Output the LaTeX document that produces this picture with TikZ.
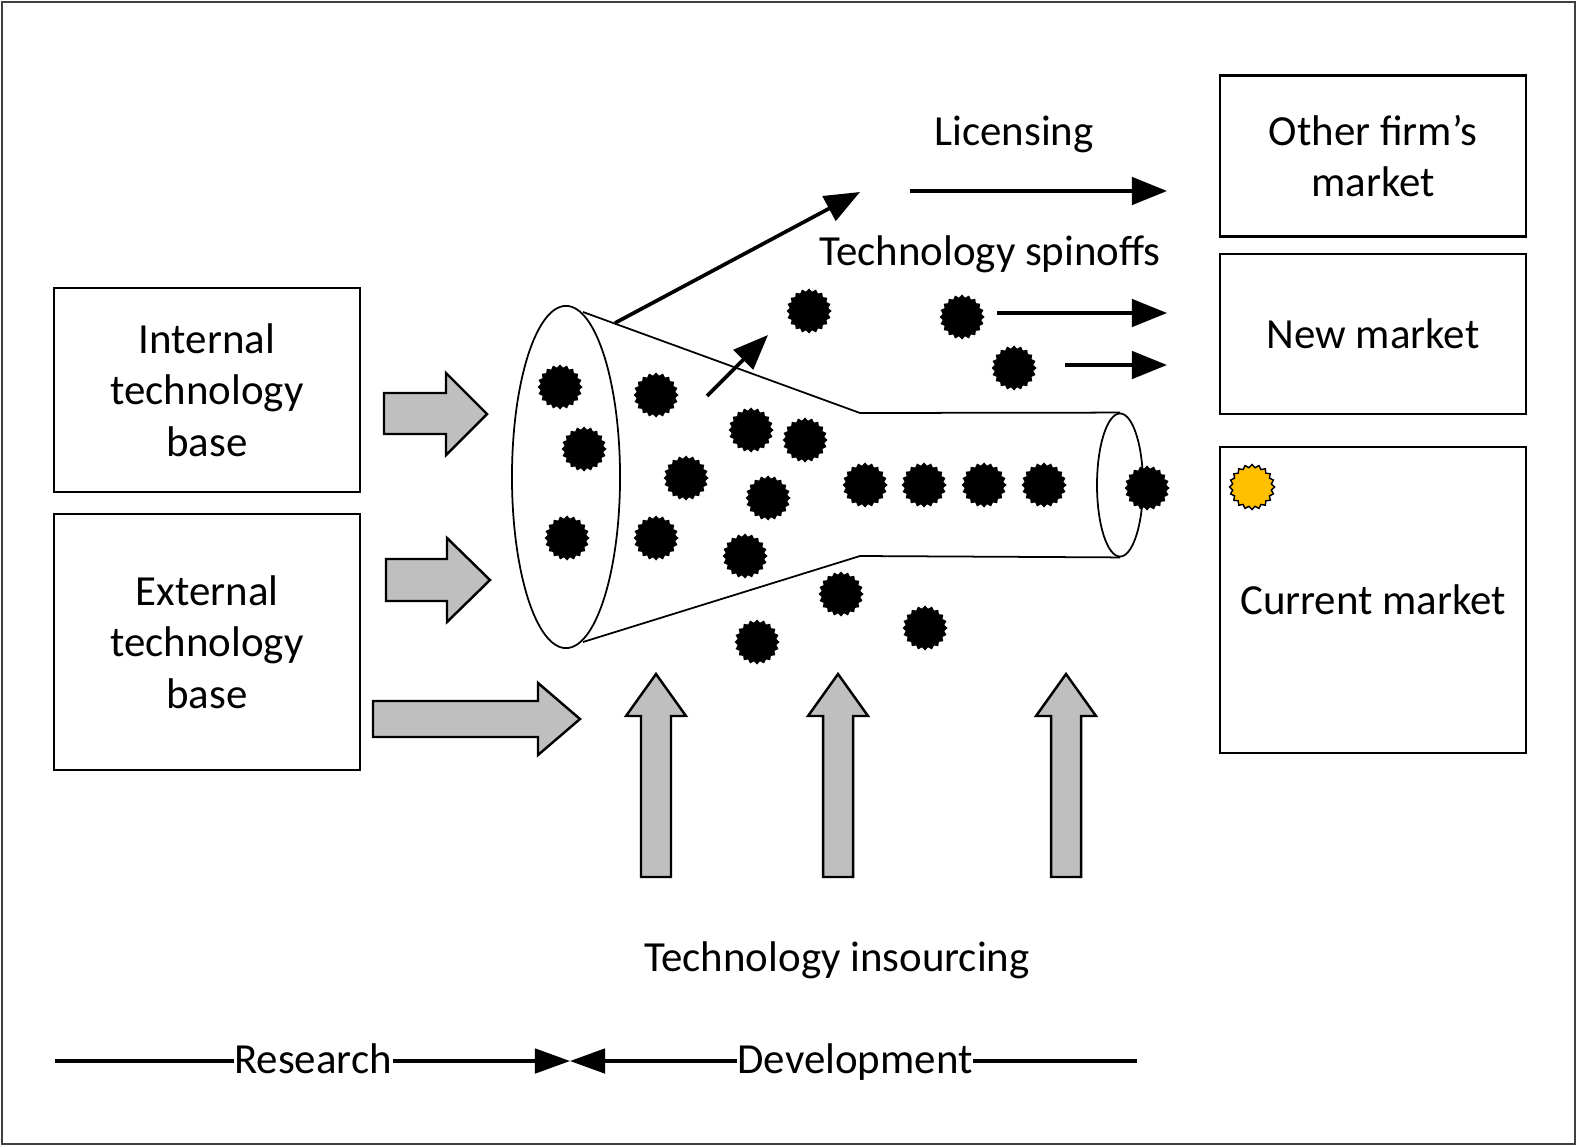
\documentclass[tikz,border=0pt]{standalone}
\usepackage{fontspec}
\setmainfont{Carlito}
\usetikzlibrary{arrows.meta}
\usetikzlibrary{shapes.geometric}
\definecolor{sunny}{HTML}{FFC000}

\begin{document}
\begin{tikzpicture}[x=0.01cm,y=-0.01cm,font=\fontsize{12.2}{14.6}\selectfont,
    box/.style={draw,line width=0.6pt,align=center,inner sep=0pt},
    burst/.style={star,star points=20,star point ratio=1.15,minimum size=0.45cm,inner sep=0pt,fill=black},
    blockarr/.style={draw,line width=0.7pt,fill=gray!50,line join=miter},
    thinarr/.style={line width=1.05pt,-{Triangle[length=10pt,width=7.8pt]}},
    phase/.style={line width=0.9pt}]
    \useasboundingbox (0,0) rectangle (1577,1146);
    \draw[line width=0.6pt,black!75] (2,2) rectangle (1575,1144);

    % technology bases
    \node[box,minimum width=3.05cm,minimum height=2.04cm] (intbase) at (207,390) {Internal\\technology\\base};
    \node[box,minimum width=3.05cm,minimum height=2.55cm] (extbase) at (207,642) {External\\technology\\base};

    % markets
    \node[box,minimum width=3.06cm,minimum height=1.61cm] (othermkt) at (1373,156) {Other firm’s\\market};
    \node[box,minimum width=3.06cm,minimum height=1.60cm] (newmkt) at (1373,334) {New market};
    \node[box,minimum width=3.06cm,minimum height=3.06cm] (curmkt) at (1373,600) {Current market};

    % funnel
    \node[draw,ellipse,line width=0.5pt,minimum width=1.08cm,minimum height=3.42cm,inner sep=0pt] (mouth) at (566,477) {};
    \node[draw,ellipse,line width=0.5pt,minimum width=0.46cm,minimum height=1.43cm,inner sep=0pt] (throat) at (1120,485) {};
    \coordinate (ftop) at (583,312);
    \coordinate (fbot) at (583,642);
    \coordinate (ktop) at (860,413);
    \coordinate (kbot) at (860,556);
    \draw[line width=0.5pt] (ftop) -- (ktop) -- (throat.north);
    \draw[line width=0.5pt] (fbot) -- (kbot) -- (throat.south);

    % block arrows
    \draw[blockarr] (384,393) -- (446,393) -- (446,373) -- (487,414) -- (446,455) -- (446,434) -- (384,434) -- cycle;
    \draw[blockarr] (386,559) -- (447,559) -- (447,538) -- (490,580) -- (447,622) -- (447,601) -- (386,601) -- cycle;
    \draw[blockarr] (373,701) -- (538,701) -- (538,683) -- (580,719) -- (538,755) -- (538,737) -- (373,737) -- cycle;
    \foreach \x in {656,838,1066}
      \draw[blockarr] (\x-15,877) -- ++(0,-161) -- ++(-15,0) -- (\x,674) -- ++(30,42) -- ++(-15,0) -- ++(0,161) -- cycle;

    % technologies
    \foreach \x/\y [count=\i] in {560/387,584/449,567/538,656/395,686/478,656/538,751/430,805/440,768/498,745/556,
        865/485,924/485,984/485,1044/485,1147/488,809/311,962/317,1014/368,841/594,925/628,757/642}
      \node[burst] (s\i) at (\x,\y) {};
    \node[burst,fill=sunny,draw=black,line width=0.4pt] (gold) at (1252,487) {};

    % licensing and spinoffs
    \coordinate (licA) at (615,323);
    \coordinate (licB) at (860,192);
    \coordinate (licC) at (910,191);
    \coordinate (licD) at (1167,191);
    \draw[thinarr] (licA) -- (licB);
    \draw[thinarr] (licC) -- (licD);
    \coordinate (spA) at (707,396);
    \coordinate (spB) at (768,335);
    \draw[thinarr] (spA) -- (spB);
    \coordinate (spC) at (997,313);
    \coordinate (spD) at (1167,313);
    \draw[thinarr] (spC) -- (spD);
    \coordinate (spE) at (1065,365);
    \coordinate (spF) at (1167,365);
    \draw[thinarr] (spE) -- (spF);

    \node (lic) at (1014,134) {Licensing};
    \node (spin) at (990,254) {Technology spinoffs};
    \node (insrc) at (837,960) {Technology insourcing};

    % research / development
    \node[inner sep=0pt,anchor=base] (research) at (313,1073) {Research};
    \node[inner sep=0pt,anchor=base] (develop) at (855,1073) {Development};
    \coordinate (lineL) at (55,1061);
    \coordinate (lineR) at (1137,1061);
    \coordinate (rdmid) at (570,1061);
    \draw[phase] (lineL) -- (lineL -| research.west);
    \draw[phase,-{Triangle[length=10pt,width=7pt]}] (research.east |- lineL) -- (rdmid);
    \draw[phase,-{Triangle[length=10pt,width=7pt]}] (develop.west |- lineL) -- (rdmid);
    \draw[phase] (develop.east |- lineL) -- (lineR);
\end{tikzpicture}
\end{document}
